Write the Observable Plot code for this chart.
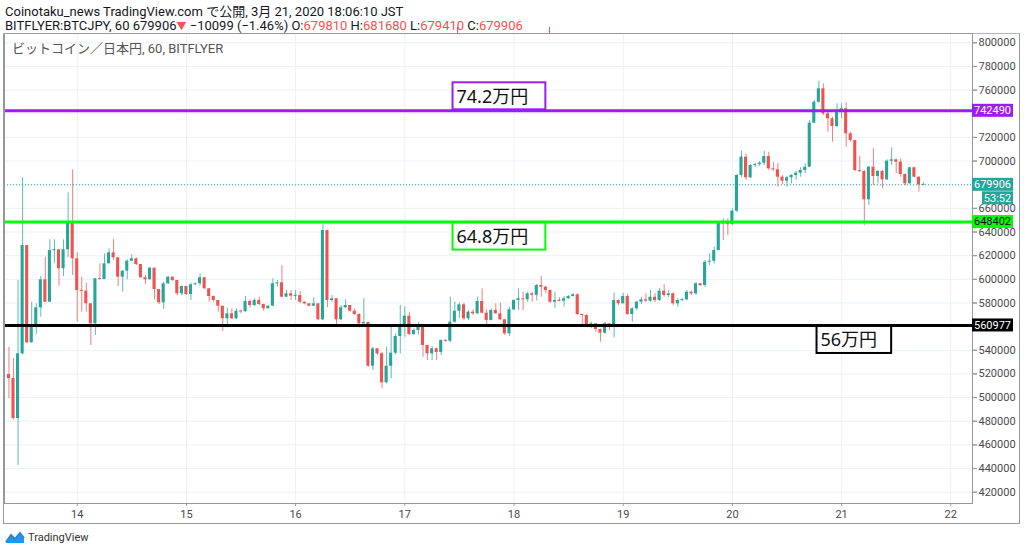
<!DOCTYPE html>
<html><head><meta charset="utf-8">
<script src="https://cdn.jsdelivr.net/npm/d3@7"></script>
<script src="https://cdn.jsdelivr.net/npm/@observablehq/plot@0.6"></script>
<style>
body{margin:0;background:#fff;font-family:Roboto,"Noto Sans","Noto Sans CJK JP",sans-serif;}
#wrap{position:relative;width:1024px;height:552px;overflow:hidden;background:#fff;}
.hdr{position:absolute;left:5px;font-size:13px;line-height:15px;color:#131722;white-space:nowrap;}
.r{color:#ef5350;}
#outer{position:absolute;left:3px;top:33px;width:1015px;height:489px;border:1px solid #9598a1;border-top:1px solid #b2b5be;box-sizing:content-box;}
#chart{position:absolute;left:0;top:33px;}
#sub{position:absolute;left:12px;top:38px;font-size:13px;color:#555;white-space:nowrap;}
#mag{position:absolute;left:457px;top:27px;width:91px;height:6px;border:1px solid #e040fb;border-top:none;}
#foot{position:absolute;left:5px;top:530px;font-size:11px;color:#333;display:flex;align-items:center;gap:3px;}
</style></head><body>
<div id="wrap">
  <div id="mag"></div>
  <div class="hdr" style="top:4px">Coinotaku_news TradingView.com で公開, 3月 21, 2020 18:06:10 JST</div>
  <div class="hdr" style="top:18px">BITFLYER:BTCJPY, 60 679906<span class="r" style="font-size:10px">▼</span> −10099 (−1.46%) O:<span class="r">679810</span> H:<span class="r">681680</span> L:<span class="r">679410</span> C:<span class="r">679906</span></div>
  <div id="outer"></div>
  <div id="chart"></div>
  <div id="sub">ビットコイン／日本円, 60, BITFLYER</div>
  <div id="foot"><svg width="20" height="14" viewBox="0 0 20 14"><path d="M1 12 L6 5 L10 9 L15 3 L19 8 L19 13 L1 13 Z" fill="#2196f3"/><path d="M1 12 L6 5 L10 9 L15 3 L19 8" fill="none" stroke="#1e88e5" stroke-width="2"/></svg><span>TradingView</span></div>
</div>
<script>
// hourly candles, first candle at hour -15 relative to 3/14 00:00 JST
const firstHour = -15;
const firstOpen = 519500;
const close = [
516100,482300,537000,628600,546300,560950,575920,599600,580650,624400,
624960,608900,624960,647450,617350,590540,590000,579300,562390,600440,
599800,613100,622420,618200,601790,606870,615320,617350,612530,601290,
599600,609400,591390,580150,596210,601790,599000,587760,593930,587170,
595370,596210,601290,591970,585470,582100,577270,566620,570850,566620,
573020,572560,581240,577860,582100,578700,575070,577270,596210,597000,
584880,587760,585730,586300,580650,579300,577270,579300,565770,641290,
582100,583540,565770,575920,577860,573020,570260,562390,563500,526540,
541240,537020,512500,526540,537530,551650,561800,568820,553340,556720,
561540,544040,537020,541240,538140,548270,547700,563740,573020,578460,
566620,572200,570850,581240,571350,565190,573630,570850,565770,553920,
574230,582100,583540,582680,587760,586500,594770,593340,590540,580650,
582100,581500,583540,585470,586910,570260,569400,560950,562390,557560,
554430,562390,559510,582100,579300,585470,570260,575070,580650,582680,
581500,584880,582100,589950,586320,587760,579300,582100,582680,589110,
587760,596210,594770,614480,615320,624370,647450,646940,646360,657600,
687790,703270,685840,696250,697000,698190,703860,693460,692610,686350,
682970,685840,687790,689730,692020,694800,732010,749770,761100,739960,
735730,729220,742750,744190,723050,717390,692020,691000,667240,694800,
686940,691170,684150,699880,701070,699040,688630,680770,694300,686350,
679810,679906];
const high = [
542340,533040,599000,685800,626000,580650,579300,602380,618700,633400,
633400,625000,633400,673160,692600,622420,601790,596720,579300,600700,
613100,621580,625800,633670,618200,607400,616500,620730,618200,612530,
603230,610250,609400,591400,597560,602400,602000,599000,594500,594000,
596700,597000,604670,601790,592000,586000,582100,577300,575580,575070,
575070,574000,585470,582680,583540,584900,579000,578000,600440,599000,
611680,590540,590500,590500,589700,581000,579300,584370,579300,646100,
641290,586300,583540,577860,582680,578000,575000,570800,583540,563500,
542590,541500,538000,542590,560100,553920,577860,576800,572200,558100,
563500,562000,544040,543200,542000,548860,549000,584880,580650,579800,
579800,573630,574230,584880,591970,574230,575070,579300,579800,566000,
576430,582680,591970,589100,589100,589000,595620,602380,594000,591000,
589100,584370,585470,586300,588260,587760,570300,570260,563740,562390,
558000,563740,562500,588260,582680,588260,587170,576000,581500,584880,
587760,590540,588000,592240,595370,590540,588500,583540,583800,590540,
590000,597560,596460,615910,621580,627160,648290,651170,651170,659630,
688630,708340,706140,697100,697940,699620,708340,707500,698780,698000,
687790,686940,688630,691170,694550,697690,734300,751210,767530,765330,
741310,737090,748420,748420,749260,724400,717500,703860,692000,695390,
710370,692020,692000,701070,711210,701500,701910,689000,694800,694800,
686500,681680];
const low = [
499200,481030,442560,536000,545730,546000,553080,567970,580400,580650,
613100,594180,602380,618200,603230,563740,572200,572200,544040,552500,
599500,599800,613000,615900,593930,589100,599600,615300,611680,600900,
595620,599600,582680,578700,574480,595600,598200,586070,586300,586300,
582100,595000,594500,591500,580650,580650,572200,555870,560950,566000,
566000,570850,572000,575920,576800,577860,573020,575000,577000,593340,
584370,584300,582100,582100,579300,578400,576800,577000,565200,565000,
575920,580650,561800,565200,575070,572200,569400,559000,559300,525700,
522900,535580,507430,511500,515880,536000,537000,551000,552500,552500,
553000,534150,531360,531360,531360,535580,546850,546500,563000,566870,
565200,565200,569400,570000,570850,559510,564800,570260,565190,552500,
551650,573500,573630,573630,580650,580650,581500,584880,587760,579800,
575070,581000,576430,583000,585000,569400,560950,559510,558150,555270,
546820,553340,556720,550550,577860,579300,569400,563740,573630,578700,
580400,580650,580400,581240,584880,584630,577860,576430,581240,581800,
586320,586500,593930,593080,611680,613000,624000,632820,637050,645510,
656500,686000,683560,685250,694550,695390,696250,692000,691170,677890,
680180,677890,680770,683560,686350,689480,694500,731500,748900,738530,
724400,715950,728120,735730,711720,715950,691170,690500,645510,662420,
679330,680770,676550,683560,696250,689220,686350,679330,680180,685840,
673670,679410];

const dayLabels = [14,15,16,17,18,19,20,21,22];
const priceTicks = d3.range(420000, 800001, 20000);
// tick labels hidden behind the price tags on the right axis
const hiddenTickLabels = [740000, 680000, 560000];
const levels = [
  {price:742490, color:"#9c1cf5", label:"74.2万円", text:"#fff"},
  {price:648402, color:"#00ff00", label:"64.8万円", text:"#000"},
  {price:560977, color:"#000000", label:"56万円", text:"#fff"}
];
const lastPrice = 679906;
const countdown = "53:52";

const green = "#26a69a", red = "#ef5350";
const onePx = 846; // price units per pixel, for minimum body height
const candles = close.map((c, i) => {
  const o = i === 0 ? firstOpen : close[i - 1];
  let lo = Math.min(o, c), hi = Math.max(o, c);
  if (hi - lo < onePx) { const m = (hi + lo) / 2; lo = m - onePx / 2; hi = m + onePx / 2; }
  return {h: firstHour + i, o, c, hi: Math.max(high[i], o, c), lo: Math.min(low[i], o, c), bLo: lo, bHi: hi, up: c >= o};
});
const ups = candles.filter(d => d.up), downs = candles.filter(d => !d.up);
const dayHours = dayLabels.map((d, i) => i * 24);
const labelTicks = priceTicks.filter(p => !hiddenTickLabels.includes(p));

const chart = Plot.plot({
  width: 1024, height: 492,
  marginLeft: 4, marginRight: 52, marginTop: 0, marginBottom: 22,
  style: {fontFamily: "Roboto, 'Noto Sans', sans-serif", fontSize: "11px", color: "#4a4a4a", background: "transparent", overflow: "visible"},
  x: {domain: [-15.98, 196.77], label: null},
  y: {domain: [410432, 807864], label: null},
  marks: [
    Plot.ruleY(priceTicks, {stroke: "#edf1f6", strokeWidth: 1}),
    Plot.ruleX(dayHours, {stroke: "#edf1f6", strokeWidth: 1}),
    Plot.ruleY([lastPrice], {stroke: green, strokeWidth: 1, strokeDasharray: "1,2"}),
    Plot.ruleX(ups, {x: "h", y1: "lo", y2: "hi", stroke: green, strokeOpacity: 0.75}),
    Plot.ruleX(downs, {x: "h", y1: "lo", y2: "hi", stroke: red, strokeOpacity: 0.75}),
    Plot.rect(ups, {x1: d => d.h - 0.34, x2: d => d.h + 0.34, y1: "bLo", y2: "bHi", fill: green}),
    Plot.rect(downs, {x1: d => d.h - 0.34, x2: d => d.h + 0.34, y1: "bLo", y2: "bHi", fill: red}),
    Plot.ruleY(levels, {y: "price", stroke: d => d.color, strokeWidth: 3}),
    Plot.frame({stroke: "#9598a1", strokeWidth: 1}),
    Plot.axisY({anchor: "right", ticks: priceTicks, tickFormat: () => "", tickSize: 4, stroke: "#9598a1", label: null}),
    Plot.axisY({anchor: "right", ticks: labelTicks, tickFormat: d3.format("d"), tickSize: 4, tickPadding: 2, stroke: "#9598a1", fill: "#4a4a4a", label: null}),
    Plot.axisX({ticks: dayHours, tickFormat: (h) => dayLabels[h / 24], tickSize: 3, tickPadding: 4, stroke: "#9598a1", fill: "#4a4a4a", label: null})
  ]
});
document.getElementById("chart").appendChild(chart);

// overlays positioned with the chart's own scales
const sx = chart.scale("x"), sy = chart.scale("y");
const svg = d3.select(chart);
const g = svg.append("g");
function tag(price, fill, txtColor, label, xOff, yOff, w) {
  const py = sy.apply(price) + yOff;
  const x0 = sx.apply(196.77) + xOff;
  g.append("rect").attr("x", x0).attr("y", py - 6.5).attr("width", w).attr("height", 13).attr("fill", fill);
  g.append("text").attr("x", x0 + w / 2).attr("y", py).attr("dy", "0.35em").attr("text-anchor", "middle")
    .attr("fill", txtColor).attr("font-size", 11).attr("font-family", "Roboto, sans-serif").text(label);
}
levels.forEach(l => tag(l.price, l.color, l.text, String(l.price), 0, 0, 41));
tag(lastPrice, green, "#fff", String(lastPrice), 0, 0, 41);
tag(lastPrice, green, "#fff", countdown, 10, 13.5, 31);

// annotation boxes
const notes = [
  {lv: levels[0], h1: 82.6, h2: 103, above: true},
  {lv: levels[1], h1: 82.6, h2: 103, above: false},
  {lv: levels[2], h1: 162.6, h2: 179, above: false}
];
notes.forEach(n => {
  const py = sy.apply(n.lv.price);
  const x1 = sx.apply(n.h1), x2 = sx.apply(n.h2);
  const top = n.above ? py - 28 : py + 1;
  g.append("rect").attr("x", x1).attr("y", top).attr("width", x2 - x1).attr("height", 27)
    .attr("fill", "#fff").attr("stroke", n.lv.color).attr("stroke-width", 2);
  g.append("text").attr("x", x1 + 4).attr("y", top + 14).attr("dy", "0.36em").attr("text-anchor", "start")
    .attr("font-size", 18).attr("fill", "#111").attr("font-family", "'Noto Sans', 'Noto Sans CJK JP', sans-serif").text(n.lv.label);
});
</script>
</body></html>
